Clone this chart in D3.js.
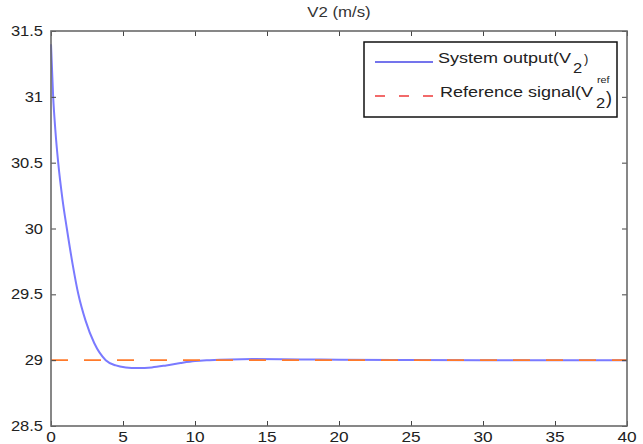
<!DOCTYPE html>
<html><head><meta charset="utf-8">
<script src="https://cdn.jsdelivr.net/npm/d3@7"></script>
<style>body{margin:0;background:#fff}svg{display:block}</style>
</head><body><svg id="c" width="643" height="444"></svg>
<script>
const timeS = [0,0.15,0.3,0.5,0.8,1.1,1.5,1.9,2.4,3.0,3.8,4.5,5.2,6.0,7.0,8.0,9.0,10.0,11.0,12.5,14,16,18,20,25,30,40];
const outputV2 = [31.4,31.0,30.75,30.5,30.22,30.0,29.73,29.5,29.3,29.13,29.0,28.96,28.945,28.94,28.945,28.96,28.978,28.993,29.0,29.006,29.008,29.007,29.005,29.003,29.001,29.0,29.0];
const refV2 = [[0,29],[40,29]];
const xTicks = [0,5,10,15,20,25,30,35,40];
const yTicks = [28.5,29,29.5,30,30.5,31,31.5];

const svg = d3.select("#c");
const L=51, R=627, T=31, B=426;
const x = d3.scaleLinear().domain([0,40]).range([L,R]);
const y = d3.scaleLinear().domain([28.5,31.5]).range([B,T]);
const font = "Liberation Sans, Arial, sans-serif";
const axCol = "#6a6a6a";

function txt(px, py, str, size, sx, anchor, fill) {
  return svg.append("text")
    .attr("transform", `translate(${px},${py}) scale(${sx},1)`)
    .attr("text-anchor", anchor || "start")
    .attr("font-family", font).attr("font-size", size)
    .attr("fill", fill || "#222").text(str);
}

// title
txt((L+R)/2, 17, "V2 (m/s)", 14, 1.2, "middle", "#333");

// data lines
svg.append("path").datum(timeS.map((t,i)=>[t,outputV2[i]]))
  .attr("fill","none").attr("stroke","#7a7aff").attr("stroke-width",2)
  .attr("d", d3.line().x(d=>x(d[0])).y(d=>y(d[1])).curve(d3.curveMonotoneX));
svg.append("path").datum(refV2)
  .attr("fill","none").attr("stroke","#ff7a2a").attr("stroke-width",1.8)
  .attr("stroke-dasharray","17,16")
  .attr("d", d3.line().x(d=>x(d[0])).y(d=>y(d[1])));

// axes (MATLAB-style inward ticks on all sides)
const ax = (g, gen) => {
  g.call(gen);
  g.select(".domain").remove();
  g.selectAll("line").attr("stroke","#444").attr("stroke-width",1);
  g.selectAll("text").remove();
};
svg.append("g").attr("transform",`translate(0,${B})`).call(g=>ax(g, d3.axisBottom(x).tickValues(xTicks).tickSize(-5)));
svg.append("g").attr("transform",`translate(0,${T})`).call(g=>ax(g, d3.axisTop(x).tickValues(xTicks).tickSize(-5)));
svg.append("g").attr("transform",`translate(${L},0)`).call(g=>ax(g, d3.axisLeft(y).tickValues(yTicks).tickSize(-5)));
svg.append("g").attr("transform",`translate(${R},0)`).call(g=>ax(g, d3.axisRight(y).tickValues(yTicks).tickSize(-5)));
svg.append("rect").attr("x",L).attr("y",T).attr("width",R-L).attr("height",B-T)
  .attr("fill","none").attr("stroke",axCol).attr("stroke-width",1.6);

// tick labels
const fmt = d3.format("~g");
xTicks.forEach(v => txt(Math.min(x(v), 634), 442, fmt(v), 15, 1.15, "middle"));
yTicks.forEach(v => txt(L-8, y(v)+5, fmt(v), 15, 1.1, "end"));

// legend
svg.append("rect").attr("x",364).attr("y",42).attr("width",253).attr("height",75)
  .attr("fill","#fff").attr("stroke","#111").attr("stroke-width",1.5);
svg.append("line").attr("x1",375).attr("x2",433).attr("y1",62).attr("y2",62)
  .attr("stroke","#4646e6").attr("stroke-width",1.5);
svg.append("line").attr("x1",375).attr("x2",433).attr("y1",96).attr("y2",96)
  .attr("stroke","#ee3a3a").attr("stroke-width",1.5).attr("stroke-dasharray","10,14");
txt(438, 63, "System output(V", 15, 1.2);
txt(573, 73, "2", 15, 1.1);
txt(584, 63, ")", 13, 1.0);
txt(440, 97, "Reference signal(V", 15, 1.2);
txt(596, 108, "2", 15, 1.1);
txt(597, 83, "ref", 9, 1.2);
txt(606, 104, ")", 18, 1.0);
</script></body></html>
